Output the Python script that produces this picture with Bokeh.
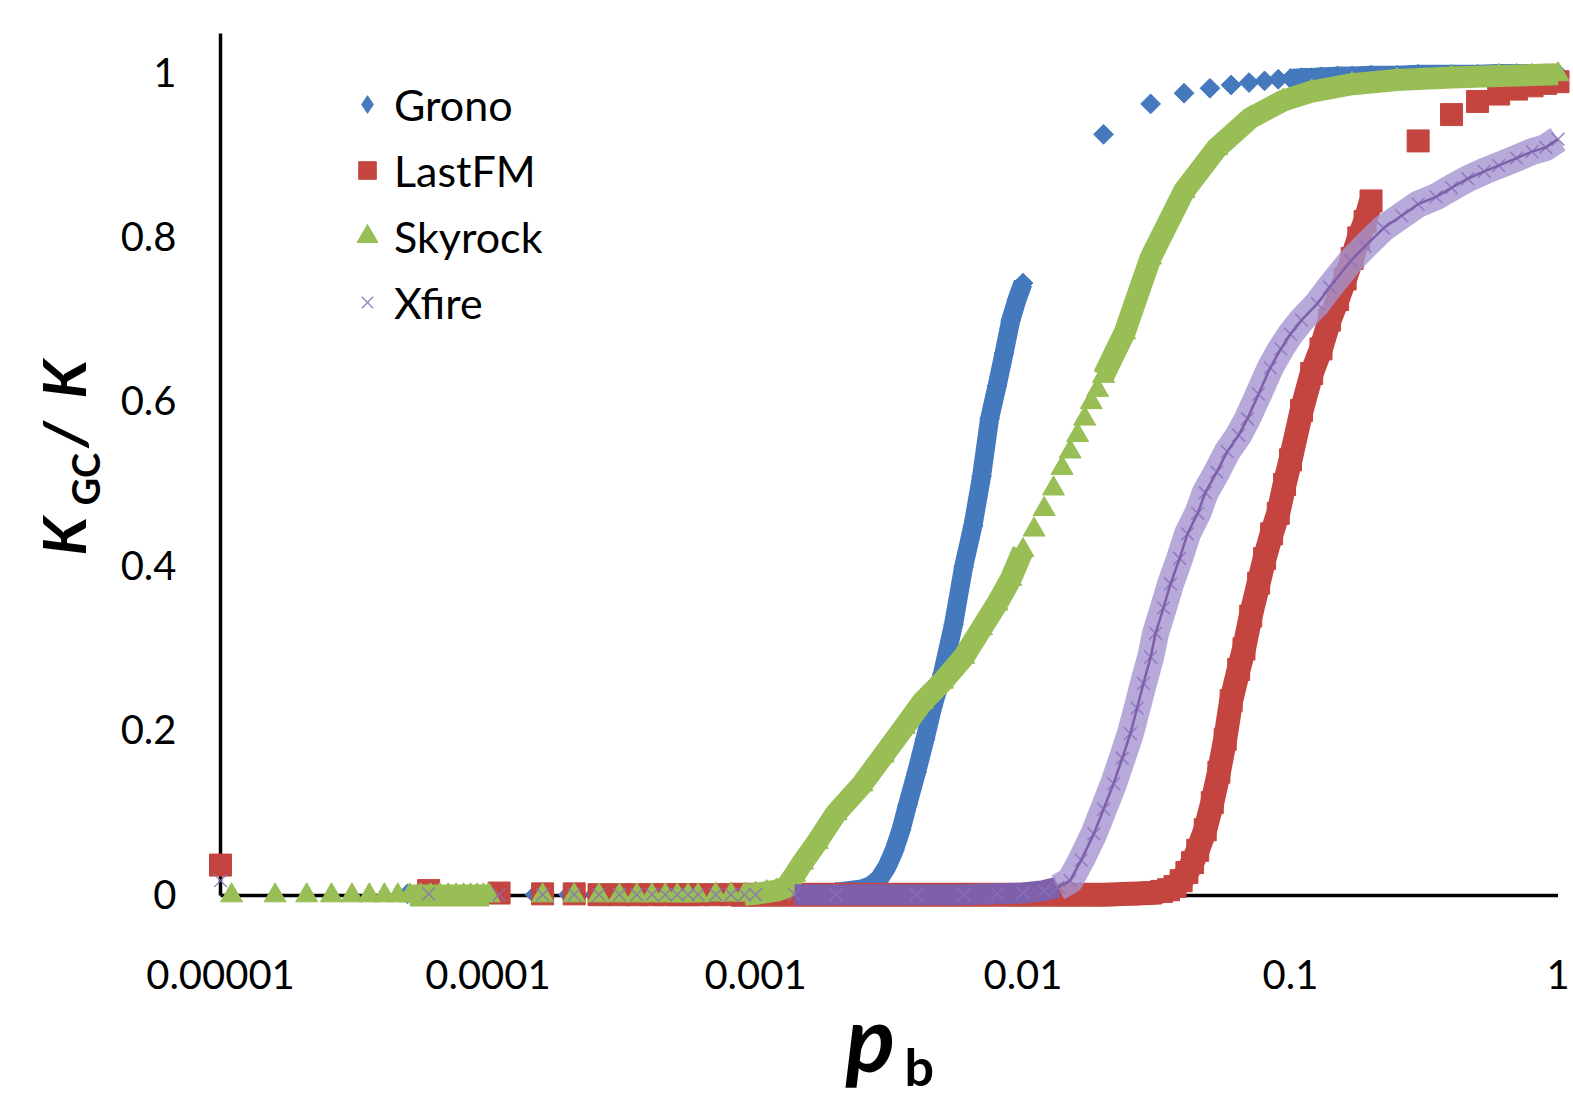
import numpy as np
from bokeh.plotting import figure
from bokeh.models import Range1d, Label, Legend, LegendItem
from bokeh.core.properties import value
from bokeh.embed import file_html
from bokeh.resources import INLINE

# ---------------- data ----------------
X_TICKS = [0.00001, 0.0001, 0.001, 0.01, 0.1, 1]
X_TICK_LABELS = ["0.00001", "0.0001", "0.001", "0.01", "0.1", "1"]
Y_TICKS = [0, 0.2, 0.4, 0.6, 0.8, 1]
Y_TICK_LABELS = ["0", "0.2", "0.4", "0.6", "0.8", "1"]
SERIES = ["Grono", "LastFM", "Skyrock", "Xfire"]

GRONO_X = [5e-5, 1e-4, 1.5e-4, 2e-4, 2.5e-4, 3e-4, 4e-4, 5e-4, 6e-4,
           0.0008, 0.0010, 0.0015, 0.0020, 0.0025, 0.0027, 0.0029, 0.0031, 0.0033, 0.0035,
           0.0037, 0.0040, 0.0043, 0.0046, 0.0050, 0.0055, 0.0060, 0.0065, 0.0070, 0.0075,
           0.0080, 0.0085, 0.0090, 0.0095, 0.0100,
           0.02, 0.03, 0.04, 0.05, 0.06, 0.07, 0.08, 0.09, 0.10, 0.11, 0.12, 0.13, 0.14,
           0.15, 0.17, 0.20, 0.25, 0.30, 0.40, 0.50, 0.60, 0.70, 0.80, 0.90, 1.00]
GRONO_Y = [0.002, 0.001, 0.001, 0.001, 0.001, 0.001, 0.001, 0.001, 0.001,
           0.002, 0.002, 0.003, 0.004, 0.008, 0.012, 0.020, 0.035, 0.055, 0.080,
           0.110, 0.150, 0.190, 0.230, 0.270, 0.330, 0.400, 0.450, 0.510, 0.580,
           0.620, 0.660, 0.700, 0.725, 0.745,
           0.926, 0.963, 0.976, 0.982, 0.986, 0.989, 0.991, 0.993, 0.994, 0.995, 0.995, 0.996, 0.996,
           0.997, 0.997, 0.998, 0.998, 0.999, 0.999, 0.999, 1.000, 1.000, 1.000, 1.000, 1.000]

LASTFM_X = [1e-5, 6e-5, 1.1e-4, 1.6e-4, 2.1e-4, 2.6e-4, 3.1e-4, 3.6e-4, 4.1e-4, 4.6e-4,
            5.1e-4, 5.6e-4, 6.1e-4, 7.1e-4, 8.1e-4, 9.1e-4,
            0.001, 0.002, 0.005, 0.010, 0.015, 0.020, 0.025, 0.030, 0.033, 0.035, 0.037,
            0.039, 0.041, 0.043, 0.045, 0.048, 0.051, 0.054, 0.057, 0.060, 0.064, 0.067,
            0.071, 0.076, 0.080, 0.085, 0.090, 0.095, 0.100, 0.11, 0.12, 0.13, 0.14, 0.15,
            0.16, 0.17, 0.18, 0.19, 0.20,
            0.3, 0.4, 0.5, 0.6, 0.7, 0.8, 0.9, 1.0]
LASTFM_Y = [0.037, 0.006, 0.003, 0.002, 0.002, 0.001, 0.001, 0.001, 0.001, 0.001,
            0.001, 0.001, 0.001, 0.001, 0.001, 0.001,
            0.001, 0.001, 0.001, 0.001, 0.001, 0.001, 0.002, 0.003, 0.005, 0.007, 0.011,
            0.018, 0.028, 0.040, 0.055, 0.080, 0.113, 0.150, 0.190, 0.237, 0.275, 0.300,
            0.340, 0.380, 0.410, 0.440, 0.465, 0.500, 0.530, 0.590, 0.635, 0.665, 0.700, 0.725,
            0.750, 0.775, 0.800, 0.820, 0.845,
            0.918, 0.950, 0.966, 0.975, 0.981, 0.985, 0.988, 0.990]

SKYROCK_X = [1.1e-5, 1.6e-5, 2.1e-5, 2.6e-5, 3.1e-5, 3.6e-5, 4.1e-5, 4.6e-5, 5.1e-5, 5.6e-5,
             6.1e-5, 6.6e-5, 7.1e-5, 7.6e-5, 8.1e-5, 8.6e-5, 9.1e-5, 9.6e-5, 1.01e-4,
             1.6e-4, 2.1e-4, 2.6e-4, 3.1e-4, 3.6e-4, 4.1e-4, 4.6e-4, 5.1e-4, 5.6e-4, 6.1e-4,
             7.1e-4, 8.1e-4, 9.1e-4,
             0.0010, 0.0011, 0.0012, 0.0013, 0.0014, 0.0015, 0.0017, 0.0020, 0.0025, 0.0030,
             0.0036, 0.0042, 0.0050, 0.0060, 0.0070, 0.0080, 0.0090, 0.0100,
             0.011, 0.012, 0.013, 0.014, 0.015, 0.016, 0.017, 0.018, 0.019, 0.020,
             0.024, 0.030, 0.040, 0.053, 0.071, 0.094, 0.12, 0.17, 0.25, 0.40, 0.60, 1.00]
SKYROCK_Y = [0.000, 0.000, 0.000, 0.000, 0.000, 0.000, 0.000, 0.000, 0.000, 0.000,
             0.000, 0.000, 0.000, 0.000, 0.000, 0.000, 0.000, 0.000, 0.000,
             0.000, 0.000, 0.000, 0.000, 0.000, 0.000, 0.000, 0.000, 0.000, 0.000,
             0.001, 0.001, 0.001,
             0.002, 0.004, 0.006, 0.010, 0.025, 0.040, 0.065, 0.100, 0.135, 0.170,
             0.205, 0.235, 0.260, 0.290, 0.325, 0.355, 0.385, 0.420,
             0.445, 0.470, 0.495, 0.520, 0.540, 0.560, 0.580, 0.600, 0.615, 0.632,
             0.685, 0.776, 0.857, 0.909, 0.946, 0.967, 0.978, 0.987, 0.992, 0.995, 0.997, 0.999]

XFIRE_X = [1e-5, 6e-5, 1.1e-4, 1.6e-4, 2.1e-4, 2.6e-4, 3.1e-4, 3.6e-4, 4.1e-4, 4.6e-4,
           5.1e-4, 5.6e-4, 6.1e-4, 7.1e-4, 8.1e-4, 9.1e-4,
           0.001, 0.0014, 0.002, 0.004, 0.006, 0.008, 0.010, 0.012, 0.0135, 0.015, 0.0165, 0.0184,
           0.020, 0.0218, 0.0235, 0.0252, 0.0267, 0.0282, 0.030, 0.0313, 0.0335, 0.0356,
           0.0385, 0.0412, 0.045, 0.048, 0.053, 0.058, 0.064, 0.069, 0.076, 0.084, 0.092,
           0.10, 0.11, 0.126, 0.14, 0.168, 0.19, 0.223, 0.26, 0.30, 0.35, 0.40, 0.46,
           0.53, 0.60, 0.70, 0.80, 0.90, 1.00]
XFIRE_Y = [0.018, 0.002, 0.001, 0.001, 0.001, 0.001, 0.001, 0.001, 0.001, 0.001,
           0.001, 0.001, 0.001, 0.001, 0.001, 0.001,
           0.001, 0.001, 0.001, 0.001, 0.001, 0.002, 0.003, 0.006, 0.010, 0.018, 0.043, 0.075,
           0.105, 0.136, 0.167, 0.197, 0.228, 0.258, 0.290, 0.319, 0.350, 0.379,
           0.410, 0.440, 0.465, 0.490, 0.515, 0.540, 0.560, 0.580, 0.610, 0.642, 0.665,
           0.683, 0.700, 0.720, 0.740, 0.772, 0.790, 0.812, 0.827, 0.841, 0.850, 0.861, 0.872,
           0.881, 0.888, 0.897, 0.905, 0.910, 0.920]

# ---------------- layout ----------------
W, H = 1573, 1096
X0_PX, DEC_PX = 220.0, 267.5          # pixel of first x tick, pixels per decade
Y0_PX, Y1_PX = 895.0, 73.0            # pixels of y = 0 and y = 1
YAXIS_TOP_PX = 33.0
XLAB_BASE_PX = 974.0                  # anchor of x tick labels
YLAB_RIGHT_PX = 176.0                 # right edge of y tick labels
YLAB_DROP_PX = -1.5                   # anchor offset from tick centre

lx0 = np.log10(X_TICKS[0])
unit = (Y0_PX - Y1_PX) / (Y_TICKS[-1] - Y_TICKS[0])
x_lo = 10 ** (lx0 - X0_PX / DEC_PX)
x_hi = 10 ** (lx0 + (W - X0_PX) / DEC_PX)
y_lo = Y_TICKS[0] - (H - Y0_PX) / unit
y_hi = Y_TICKS[0] + Y0_PX / unit
y_axis_top = Y_TICKS[0] + (Y0_PX - YAXIS_TOP_PX) / unit

FONT = "Lato"
BLUE, RED, GREEN = "#4579BE", "#C4453F", "#98BE55"
PURPLE, PURPLE_LIGHT, PURPLE_MARK = "#7E5FAA", "#A593D0", "#8A72BB"

p = figure(width=W, height=H, x_axis_type="log",
           x_range=Range1d(x_lo, x_hi), y_range=Range1d(y_lo, y_hi),
           x_axis_location=None, y_axis_location=None,
           output_backend="svg", toolbar_location=None,
           min_border=0)
p.outline_line_color = None
p.grid.visible = False
p.background_fill_color = "white"
p.border_fill_color = "white"

# tick labels
p.text(x=X_TICKS, y=[Y_TICKS[0] - (XLAB_BASE_PX - Y0_PX) / unit] * len(X_TICKS),
       text=X_TICK_LABELS, text_font=value(FONT), text_font_size=value("40px"),
       text_color="black", text_align="center", text_baseline="alphabetic")
ylab_x = 10 ** (lx0 - (X0_PX - YLAB_RIGHT_PX) / DEC_PX)
p.text(x=[ylab_x] * len(Y_TICKS), y=[t - YLAB_DROP_PX / unit for t in Y_TICKS],
       text=Y_TICK_LABELS, text_font=value(FONT), text_font_size=value("40px"),
       text_color="black", text_align="right", text_baseline="alphabetic")

# axis lines
p.segment(x0=[X_TICKS[0]], y0=[Y_TICKS[0]], x1=[X_TICKS[0]], y1=[y_axis_top],
          line_color="black", line_width=3.5)
p.segment(x0=[X_TICKS[0]], y0=[Y_TICKS[0]], x1=[X_TICKS[-1]], y1=[Y_TICKS[0]],
          line_color="black", line_width=3.5)


def bands(xs, ys, ranges, color, width, alpha=1.0):
    xs = np.asarray(xs, dtype=float)
    ys = np.asarray(ys, dtype=float)
    for a, b in ranges:
        m = (xs >= a) & (xs <= b)
        p.line(xs[m], ys[m], line_color=color, line_width=width, line_alpha=alpha,
               line_join="round", line_cap="butt")


# Grono
bands(GRONO_X, GRONO_Y, [(0.0008, 0.0100), (0.10, 1.0)], BLUE, 19)
r_grono = p.scatter(GRONO_X, GRONO_Y, marker="square", angle=np.pi / 4, size=14,
                    fill_color=BLUE, line_color=BLUE)
# legend swatch (legend glyphs ignore angles); sits under the green band at the top right
r_grono_leg = p.scatter(GRONO_X[-4:-3], GRONO_Y[-4:-3], marker="diamond", size=12,
                        fill_color=BLUE, line_color=BLUE)

# LastFM
bands(LASTFM_X, LASTFM_Y, [(0.0008, 0.20)], RED, 24)
r_lastfm = p.scatter(LASTFM_X, LASTFM_Y, marker="square", size=22,
                     fill_color=RED, line_color=RED)

# Skyrock
bands(SKYROCK_X, SKYROCK_Y, [(5.1e-5, 1.01e-4), (0.0009, 0.0100), (0.020, 1.0)], GREEN, 22)
r_sky = p.scatter(SKYROCK_X, SKYROCK_Y, marker="triangle", size=22,
                  fill_color=GREEN, line_color=GREEN)

# Xfire
bands(XFIRE_X, XFIRE_Y, [(0.0014, 0.0135)], PURPLE, 21)
bands(XFIRE_X, XFIRE_Y, [(0.0135, 1.0)], PURPLE_LIGHT, 27, alpha=0.8)
r_xfire = p.scatter(XFIRE_X, XFIRE_Y, marker="x", size=18, line_color=PURPLE_MARK,
                    line_width=1.5, line_alpha=0.85)
bands(XFIRE_X, XFIRE_Y, [(0.0135, 1.0)], PURPLE, 2.5)

# legend (one per row so that each marker gets its own size)
LEG_MARK_X, LEG_TEXT_X = 367, 394
LEG_ROWS = [104, 170, 236, 302]
LEG_GH = 56
for name, rend, gw, row in zip(SERIES, [r_grono_leg, r_lastfm, r_sky, r_xfire],
                               [44, 44, 52, 40], LEG_ROWS):
    x0 = LEG_MARK_X - gw / 2
    vy = H - (row + LEG_GH / 2)
    leg = Legend(items=[LegendItem(label=name, renderers=[rend])],
                 location=(x0, vy), glyph_width=gw, glyph_height=LEG_GH,
                 label_height=LEG_GH, label_width=10,
                 label_standoff=int(LEG_TEXT_X - LEG_MARK_X - gw / 2),
                 padding=0, margin=0, spacing=0,
                 border_line_color=None, background_fill_alpha=0,
                 label_text_font=FONT, label_text_font_size="43px",
                 label_text_color="black")
    p.add_layout(leg)


def title(text, cx, cy, size, style, angle=0.0):
    p.add_layout(Label(x=cx, y=H - cy, x_units="screen", y_units="screen",
                       text=text, text_font=FONT, text_font_size=size,
                       text_font_style=style, text_color="black", angle=angle,
                       text_align="left", text_baseline="alphabetic"))


# x-axis title  p_b
title("p", 845, 1036, "92px", "bold italic")
title("b", 904, 1065, "52px", "bold")
# y-axis title  K_GC / K  (rotated)
title("K", 62, 555, "60px", "bold italic", np.pi / 2)
title("GC", 84, 505, "38px", "bold", np.pi / 2)
title("/", 62, 447, "60px", "bold italic", np.pi / 2)
title("K", 62, 398, "60px", "bold italic", np.pi / 2)

open("out.html", "w").write(file_html(p, INLINE))
